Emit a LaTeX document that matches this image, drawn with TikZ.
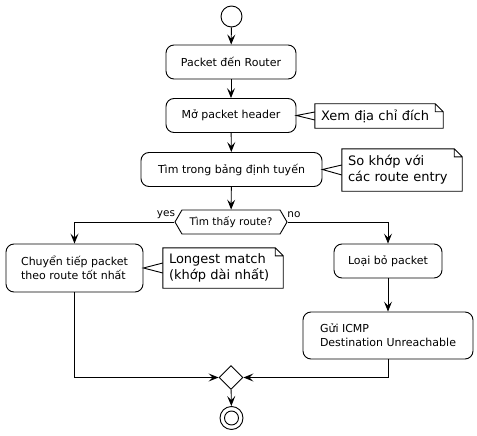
\documentclass[tikz,border=0pt]{standalone}
\usepackage{fontspec}
\setmainfont{DejaVu Sans}
\usetikzlibrary{arrows.meta,shapes.geometric,shapes.symbols}

\begin{document}
\begin{tikzpicture}[x=1pt, y=-1pt, font=\fontsize{11}{14}\selectfont]
%% one unit is one pixel of the drawing, y grows downwards
%% box sizes are fixed with minimum width/height so that they match the layout
\tikzstyle{arc}=[-{Stealth[length=10pt,width=8pt,inset=4pt]},line width=0.9pt]
\tikzstyle{line}=[line width=0.9pt]
\tikzstyle{action}=[draw,line width=0.9pt,rounded corners=8pt,inner sep=0pt,align=left]
\tikzstyle{note}=[inner xsep=6pt,inner ysep=0pt,align=left,font=\fontsize{13}{16}\selectfont]
\tikzstyle{notefold}=[draw,line width=0.9pt]
\tikzstyle{decision}=[signal,signal to=east and west,signal pointer angle=120,draw,line width=0.9pt,inner sep=0pt,font=\fontsize{10.5}{12}\selectfont]
\tikzstyle{merge}=[diamond,draw,line width=0.9pt,minimum size=24pt,inner sep=0pt]
\tikzstyle{start}=[circle,draw,line width=0.9pt,minimum size=21pt,inner sep=0pt]
\tikzstyle{guard}=[inner sep=0pt,font=\fontsize{10.5}{12}\selectfont]
\useasboundingbox (0,0) rectangle (477,436);
%% TikZ-figure elements %%
\node[start] at (231.5,16.5) (Start) {};
\node[action,minimum width=130pt,minimum height=34pt] at (231,62) (Arrive) {Packet đến Router};
\node[action,minimum width=130pt,minimum height=34pt] at (231,115.5) (OpenHeader) {Mở packet header};
\node[action,minimum width=181pt,minimum height=34pt] at (231.5,169.5) (Lookup) {Tìm trong bảng định tuyến};
\node[decision,minimum width=112pt,minimum height=24pt] at (231,222) (Found) {Tìm thấy route?};
%% guards of the decision
\node[guard] at (166,215) (YesLabel) {yes};
\node[guard] at (294,215) (NoLabel) {no};
\node[action,minimum width=137pt,minimum height=48pt] at (74.5,268) (Forward) {Chuyển tiếp packet\\theo route tốt nhất};
\node[action,minimum width=108pt,minimum height=34pt] at (388,261) (Drop) {Loại bỏ packet};
\node[action,minimum width=170pt,minimum height=47pt] at (388,335.5) (SendICMP) {Gửi ICMP\\Destination Unreachable};
\node[merge] at (231,377.5) (Merge) {};
\node[circle,draw,line width=0.9pt,minimum size=23pt,inner sep=0pt] at (231.5,418) (Stop) {};
\node[circle,draw,line width=0.9pt,minimum size=14pt,inner sep=0pt] at (Stop.center) (StopInner) {};
%% notes (text width = width - 12)
\node[note,text width=116pt,minimum height=24pt] at (379,116) (NoteHeader) {Xem địa chỉ đích};
\node[note,text width=108pt,minimum height=42pt] at (402,170) (NoteLookup) {So khớp với\\các route entry};
\node[note,text width=108pt,minimum height=40pt] at (223,268) (NoteMatch) {Longest match\\(khớp dài nhất)};
\foreach \n in {NoteHeader,NoteLookup,NoteMatch}
  \draw[notefold] (\n.south west) -- (\n.north west) -- ([xshift=-8pt]\n.north east)
    -- ([yshift=-8pt]\n.north east) -- (\n.south east) -- cycle
    ([xshift=-8pt]\n.north east) |- ([yshift=-8pt]\n.north east);
%% note connectors
\draw[line] ([yshift=4pt]NoteHeader.west) -- (OpenHeader.east) -- ([yshift=-4pt]NoteHeader.west);
\draw[line] ([yshift=5pt]NoteLookup.west) -- (Lookup.east) -- ([yshift=-5pt]NoteLookup.west);
\draw[line] ([yshift=5pt]NoteMatch.west) -- (Forward.east) -- ([yshift=-5pt]NoteMatch.west);
%% flow
\draw[arc] (Start) -- (Arrive);
\draw[arc] (Arrive) -- (OpenHeader);
\draw[arc] (OpenHeader) -- (Lookup);
\draw[arc] (Lookup) -- (Found);
\draw[arc] (Found.west) -| (Forward.north);
\draw[arc] (Found.east) -| (Drop.north);
\draw[arc] (Drop) -- (SendICMP);
\draw[arc] (Forward.south) |- (Merge.west);
\draw[arc] (SendICMP.south) |- (Merge.east);
\draw[arc] (Merge) -- (Stop);
\end{tikzpicture}
\end{document}
